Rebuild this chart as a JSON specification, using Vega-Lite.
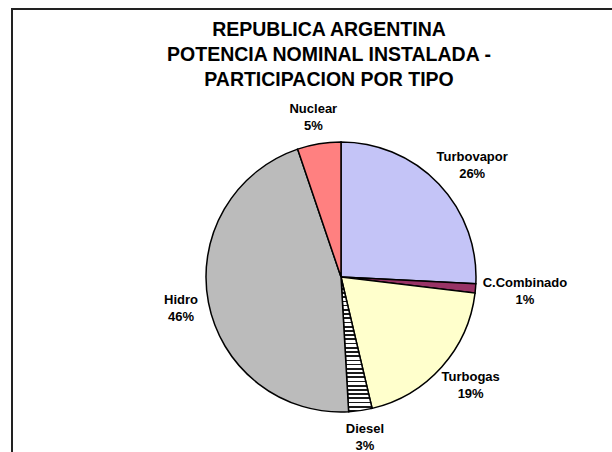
{
  "$schema": "https://vega.github.io/schema/vega-lite/v6.json",
  "width": 658,
  "height": 536,
  "autosize": {"type": "none"},
  "padding": {"left": 12, "top": 9, "right": 0, "bottom": 0},
  "background": "white",
  "view": {"stroke": "#222222", "strokeWidth": 2, "fill": "white"},
  "title": {
    "text": ["REPUBLICA ARGENTINA", "POTENCIA NOMINAL INSTALADA -", "PARTICIPACION POR TIPO"],
    "font": "Liberation Sans",
    "fontSize": 19.5,
    "fontWeight": "bold",
    "color": "black",
    "lineHeight": 25,
    "anchor": "middle",
    "frame": "group",
    "offset": -81,
    "dx": -12
  },
  "data": {
    "values": [
      {"tipo": "Turbovapor", "valor": 25.8, "pct": "26%", "orden": 1},
      {"tipo": "C.Combinado", "valor": 1.1, "pct": "1%", "orden": 2},
      {"tipo": "Turbogas", "valor": 19.4, "pct": "19%", "orden": 3},
      {"tipo": "Diesel", "valor": 2.8, "pct": "3%", "orden": 4},
      {"tipo": "Hidro", "valor": 45.7, "pct": "46%", "orden": 5},
      {"tipo": "Nuclear", "valor": 5.2, "pct": "5%", "orden": 6}
    ]
  },
  "encoding": {
    "theta": {"field": "valor", "type": "quantitative", "stack": true},
    "order": {"field": "orden", "type": "quantitative"}
  },
  "layer": [
    {
      "mark": {"type": "arc", "outerRadius": 135, "stroke": "black", "strokeWidth": 1.5},
      "encoding": {
        "color": {
          "condition": {
            "test": "datum.tipo === 'Diesel'",
            "value": {
              "gradient": "linear", "x1": 0, "y1": 0, "x2": 0, "y2": 1,
              "stops": [
                {"offset": 0, "color": "#ffffff"}, {"offset": 0.01875, "color": "#ffffff"}, {"offset": 0.01875, "color": "#1a1a1a"}, {"offset": 0.03125, "color": "#1a1a1a"},
                {"offset": 0.03125, "color": "#ffffff"}, {"offset": 0.05, "color": "#ffffff"}, {"offset": 0.05, "color": "#1a1a1a"}, {"offset": 0.0625, "color": "#1a1a1a"},
                {"offset": 0.0625, "color": "#ffffff"}, {"offset": 0.08125, "color": "#ffffff"}, {"offset": 0.08125, "color": "#1a1a1a"}, {"offset": 0.09375, "color": "#1a1a1a"},
                {"offset": 0.09375, "color": "#ffffff"}, {"offset": 0.1125, "color": "#ffffff"}, {"offset": 0.1125, "color": "#1a1a1a"}, {"offset": 0.125, "color": "#1a1a1a"},
                {"offset": 0.125, "color": "#ffffff"}, {"offset": 0.14375, "color": "#ffffff"}, {"offset": 0.14375, "color": "#1a1a1a"}, {"offset": 0.15625, "color": "#1a1a1a"},
                {"offset": 0.15625, "color": "#ffffff"}, {"offset": 0.175, "color": "#ffffff"}, {"offset": 0.175, "color": "#1a1a1a"}, {"offset": 0.1875, "color": "#1a1a1a"},
                {"offset": 0.1875, "color": "#ffffff"}, {"offset": 0.20625, "color": "#ffffff"}, {"offset": 0.20625, "color": "#1a1a1a"}, {"offset": 0.21875, "color": "#1a1a1a"},
                {"offset": 0.21875, "color": "#ffffff"}, {"offset": 0.2375, "color": "#ffffff"}, {"offset": 0.2375, "color": "#1a1a1a"}, {"offset": 0.25, "color": "#1a1a1a"},
                {"offset": 0.25, "color": "#ffffff"}, {"offset": 0.26875, "color": "#ffffff"}, {"offset": 0.26875, "color": "#1a1a1a"}, {"offset": 0.28125, "color": "#1a1a1a"},
                {"offset": 0.28125, "color": "#ffffff"}, {"offset": 0.3, "color": "#ffffff"}, {"offset": 0.3, "color": "#1a1a1a"}, {"offset": 0.3125, "color": "#1a1a1a"},
                {"offset": 0.3125, "color": "#ffffff"}, {"offset": 0.33125, "color": "#ffffff"}, {"offset": 0.33125, "color": "#1a1a1a"}, {"offset": 0.34375, "color": "#1a1a1a"},
                {"offset": 0.34375, "color": "#ffffff"}, {"offset": 0.3625, "color": "#ffffff"}, {"offset": 0.3625, "color": "#1a1a1a"}, {"offset": 0.375, "color": "#1a1a1a"},
                {"offset": 0.375, "color": "#ffffff"}, {"offset": 0.39375, "color": "#ffffff"}, {"offset": 0.39375, "color": "#1a1a1a"}, {"offset": 0.40625, "color": "#1a1a1a"},
                {"offset": 0.40625, "color": "#ffffff"}, {"offset": 0.425, "color": "#ffffff"}, {"offset": 0.425, "color": "#1a1a1a"}, {"offset": 0.4375, "color": "#1a1a1a"},
                {"offset": 0.4375, "color": "#ffffff"}, {"offset": 0.45625, "color": "#ffffff"}, {"offset": 0.45625, "color": "#1a1a1a"}, {"offset": 0.46875, "color": "#1a1a1a"},
                {"offset": 0.46875, "color": "#ffffff"}, {"offset": 0.4875, "color": "#ffffff"}, {"offset": 0.4875, "color": "#1a1a1a"}, {"offset": 0.5, "color": "#1a1a1a"},
                {"offset": 0.5, "color": "#ffffff"}, {"offset": 0.51875, "color": "#ffffff"}, {"offset": 0.51875, "color": "#1a1a1a"}, {"offset": 0.53125, "color": "#1a1a1a"},
                {"offset": 0.53125, "color": "#ffffff"}, {"offset": 0.55, "color": "#ffffff"}, {"offset": 0.55, "color": "#1a1a1a"}, {"offset": 0.5625, "color": "#1a1a1a"},
                {"offset": 0.5625, "color": "#ffffff"}, {"offset": 0.58125, "color": "#ffffff"}, {"offset": 0.58125, "color": "#1a1a1a"}, {"offset": 0.59375, "color": "#1a1a1a"},
                {"offset": 0.59375, "color": "#ffffff"}, {"offset": 0.6125, "color": "#ffffff"}, {"offset": 0.6125, "color": "#1a1a1a"}, {"offset": 0.625, "color": "#1a1a1a"},
                {"offset": 0.625, "color": "#ffffff"}, {"offset": 0.64375, "color": "#ffffff"}, {"offset": 0.64375, "color": "#1a1a1a"}, {"offset": 0.65625, "color": "#1a1a1a"},
                {"offset": 0.65625, "color": "#ffffff"}, {"offset": 0.675, "color": "#ffffff"}, {"offset": 0.675, "color": "#1a1a1a"}, {"offset": 0.6875, "color": "#1a1a1a"},
                {"offset": 0.6875, "color": "#ffffff"}, {"offset": 0.70625, "color": "#ffffff"}, {"offset": 0.70625, "color": "#1a1a1a"}, {"offset": 0.71875, "color": "#1a1a1a"},
                {"offset": 0.71875, "color": "#ffffff"}, {"offset": 0.7375, "color": "#ffffff"}, {"offset": 0.7375, "color": "#1a1a1a"}, {"offset": 0.75, "color": "#1a1a1a"},
                {"offset": 0.75, "color": "#ffffff"}, {"offset": 0.76875, "color": "#ffffff"}, {"offset": 0.76875, "color": "#1a1a1a"}, {"offset": 0.78125, "color": "#1a1a1a"},
                {"offset": 0.78125, "color": "#ffffff"}, {"offset": 0.8, "color": "#ffffff"}, {"offset": 0.8, "color": "#1a1a1a"}, {"offset": 0.8125, "color": "#1a1a1a"},
                {"offset": 0.8125, "color": "#ffffff"}, {"offset": 0.83125, "color": "#ffffff"}, {"offset": 0.83125, "color": "#1a1a1a"}, {"offset": 0.84375, "color": "#1a1a1a"},
                {"offset": 0.84375, "color": "#ffffff"}, {"offset": 0.8625, "color": "#ffffff"}, {"offset": 0.8625, "color": "#1a1a1a"}, {"offset": 0.875, "color": "#1a1a1a"},
                {"offset": 0.875, "color": "#ffffff"}, {"offset": 0.89375, "color": "#ffffff"}, {"offset": 0.89375, "color": "#1a1a1a"}, {"offset": 0.90625, "color": "#1a1a1a"},
                {"offset": 0.90625, "color": "#ffffff"}, {"offset": 0.925, "color": "#ffffff"}, {"offset": 0.925, "color": "#1a1a1a"}, {"offset": 0.9375, "color": "#1a1a1a"},
                {"offset": 0.9375, "color": "#ffffff"}, {"offset": 0.95625, "color": "#ffffff"}, {"offset": 0.95625, "color": "#1a1a1a"}, {"offset": 0.96875, "color": "#1a1a1a"},
                {"offset": 0.96875, "color": "#ffffff"}, {"offset": 0.9875, "color": "#ffffff"}, {"offset": 0.9875, "color": "#1a1a1a"}, {"offset": 1, "color": "#1a1a1a"}
              ]
            }
          },
          "field": "tipo",
          "type": "nominal",
          "scale": {
            "domain": ["Turbovapor", "C.Combinado", "Turbogas", "Diesel", "Hidro", "Nuclear"],
            "range": ["#c4c4f7", "#993366", "#ffffcc", "#999999", "#bbbbbb", "#ff8080"]
          },
          "legend": null
        }
      }
    },
    {
      "mark": {
        "type": "text", "radius": 145,
        "dx": {"expr": "sin(PI*(datum.valor_start+datum.valor_end)/100)*length(datum.tipo)*3.6"},
        "dy": {"expr": "-cos(PI*(datum.valor_start+datum.valor_end)/100)*17-8"},
        "font": "Liberation Sans", "fontSize": 13, "fontWeight": "bold", "color": "black"
      },
      "encoding": {"text": {"field": "tipo", "type": "nominal"}}
    },
    {
      "mark": {
        "type": "text", "radius": 145,
        "dx": {"expr": "sin(PI*(datum.valor_start+datum.valor_end)/100)*length(datum.tipo)*3.6"},
        "dy": {"expr": "-cos(PI*(datum.valor_start+datum.valor_end)/100)*17+9"},
        "font": "Liberation Sans", "fontSize": 13, "fontWeight": "bold", "color": "black"
      },
      "encoding": {"text": {"field": "pct", "type": "nominal"}}
    }
  ]
}
